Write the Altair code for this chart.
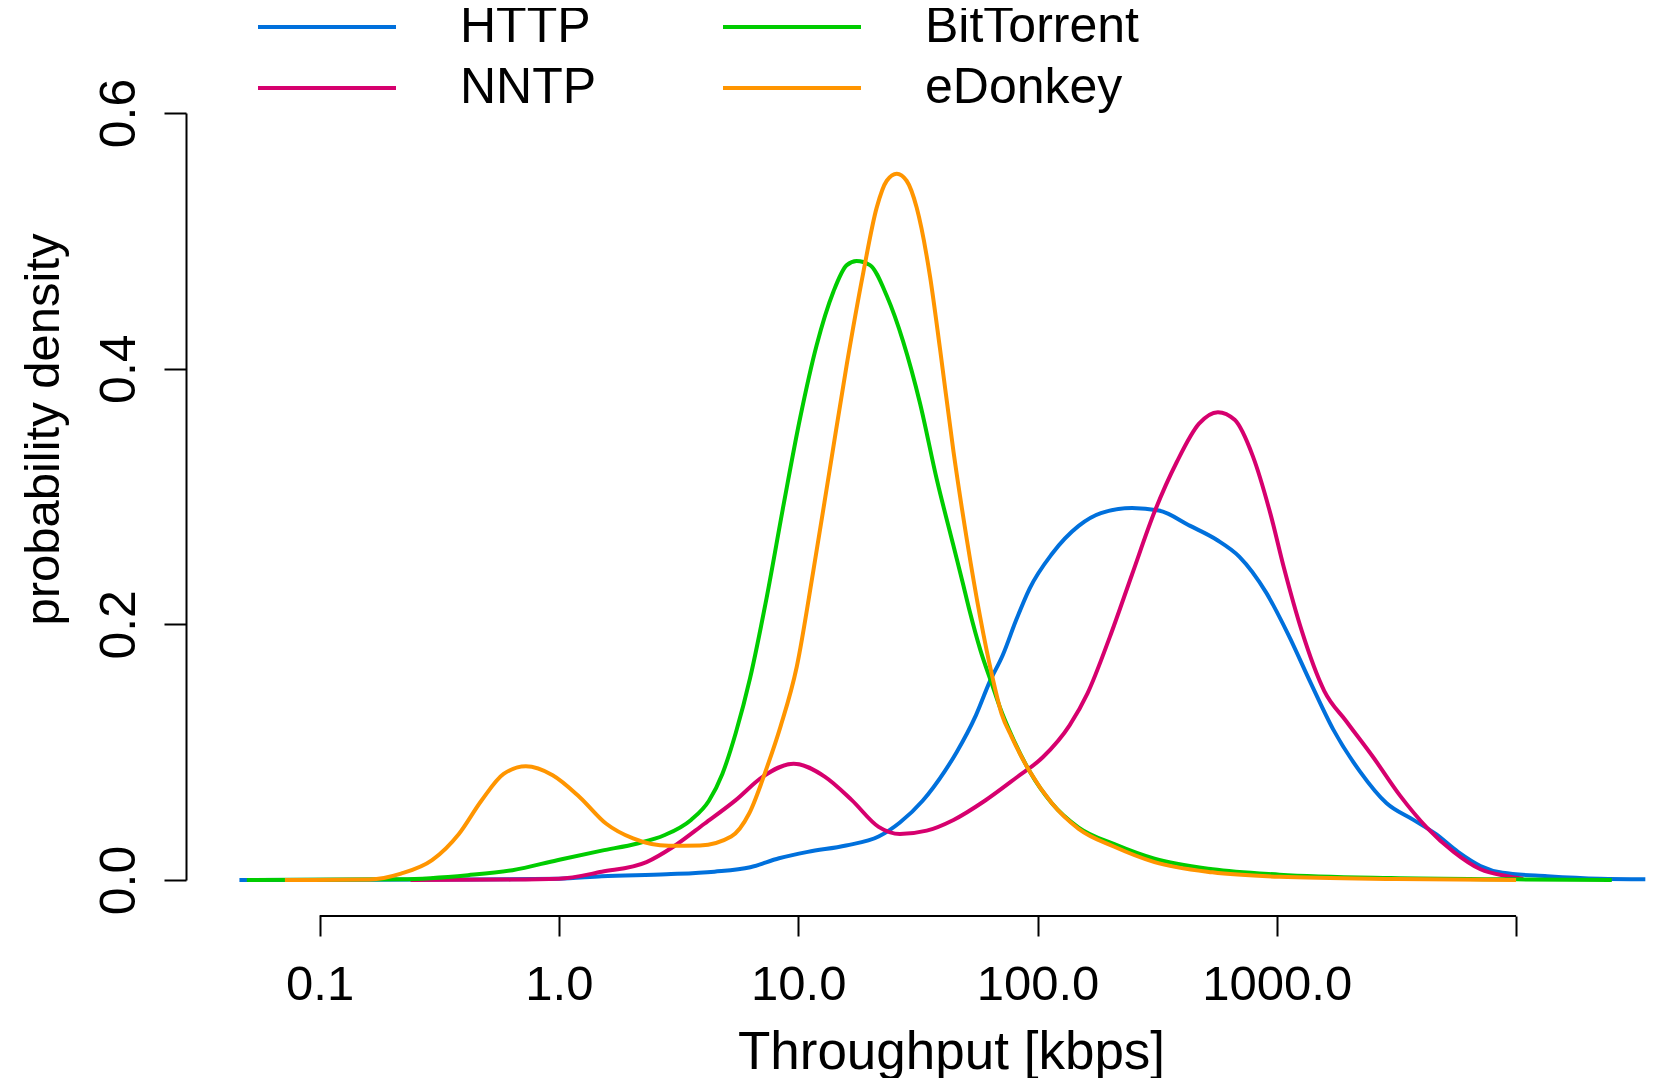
import altair as alt
import pandas as pd

# ---- data (throughput in kbps, probability density) ----
series_names = ["HTTP", "NNTP", "BitTorrent", "eDonkey"]
legend_order = ["HTTP", "NNTP", "BitTorrent", "eDonkey"]
colors = ["#0070DC", "#D6006E", "#00CC00", "#FF9500"]  # in legend_order

http_log = [-1.335, -0.5, 0.0, 0.179, 0.45, 0.65, 0.80, 0.92, 1.04, 1.2, 1.336, 1.425, 1.52,
            1.612, 1.662, 1.743, 1.80, 1.855, 1.91, 1.967, 2.06, 2.172, 2.265, 2.395,
            2.507, 2.638, 2.75, 2.843, 2.955, 3.048, 3.142, 3.235, 3.347, 3.459, 3.571,
            3.664, 3.757, 3.851, 3.944, 4.13, 4.35, 4.54]
http_den = [0.0, 0.0003, 0.001, 0.003, 0.0045, 0.0065, 0.010, 0.017, 0.022, 0.027, 0.034, 0.045, 0.062,
            0.085, 0.10, 0.129, 0.155, 0.176, 0.203, 0.228, 0.255, 0.277, 0.287, 0.291,
            0.289, 0.277, 0.266, 0.253, 0.225, 0.192, 0.154, 0.118, 0.085, 0.060, 0.047,
            0.036, 0.022, 0.011, 0.0056, 0.003, 0.001, 0.0005]

nntp_log = [-0.62, -0.2, 0.0, 0.179, 0.366, 0.478, 0.608, 0.739, 0.851, 0.981, 1.112, 1.224,
            1.336, 1.425, 1.537, 1.649, 1.78, 1.911, 2.022, 2.134, 2.209, 2.302, 2.395, 2.489,
            2.582, 2.675, 2.754, 2.824, 2.899, 2.974, 3.03, 3.104, 3.198, 3.291, 3.403, 3.515,
            3.627, 3.739, 3.851, 3.962, 4.03]
nntp_den = [0.0, 0.0003, 0.001, 0.0064, 0.014, 0.026, 0.044, 0.0625, 0.0807, 0.091, 0.0807, 0.0625,
            0.0416, 0.036, 0.0386, 0.047, 0.062, 0.080, 0.096, 0.121, 0.146, 0.190, 0.239, 0.288,
            0.327, 0.357, 0.366, 0.360, 0.332, 0.286, 0.244, 0.195, 0.148, 0.124, 0.096, 0.066,
            0.041, 0.022, 0.0084, 0.003, 0.001]

bt_log = [-1.304, -0.66, -0.38, -0.194, -0.007, 0.179, 0.328, 0.44, 0.552, 0.627, 0.683, 0.739,
          0.799, 0.868, 0.938, 1.008, 1.077, 1.147, 1.203, 1.244, 1.300, 1.370, 1.439, 1.509,
          1.579, 1.648, 1.687, 1.717, 1.761, 1.81, 1.843, 1.892, 1.967, 2.06, 2.172, 2.321, 2.489,
          2.731, 3.011, 3.477, 4.0, 4.40]
bt_den = [0.0, 0.0006, 0.0038, 0.0077, 0.0155, 0.023, 0.0286, 0.035, 0.047, 0.062, 0.083, 0.115,
          0.158, 0.2207, 0.2926, 0.3614, 0.4183, 0.4602, 0.481, 0.4842, 0.481, 0.457, 0.421, 0.373,
          0.3135, 0.262, 0.233, 0.210, 0.180, 0.153, 0.135, 0.113, 0.085, 0.060, 0.041, 0.028, 0.0166,
          0.0084, 0.0042, 0.0015, 0.0005, 0.0]

ed_log = [-1.145, -0.791, -0.66, -0.53, -0.418, -0.324, -0.231, -0.138, -0.026, 0.086, 0.198,
          0.31, 0.459, 0.59, 0.72, 0.795, 0.87, 0.926, 0.994, 1.063, 1.133, 1.203, 1.272, 1.328,
          1.37, 1.412, 1.453, 1.495, 1.551, 1.593, 1.649, 1.705, 1.76, 1.81, 1.85, 1.892, 1.967,
          2.06, 2.172, 2.321, 2.489, 2.731, 3.011, 3.5, 4.0]
ed_den = [0.0, 0.0004, 0.005, 0.0155, 0.036, 0.062, 0.083, 0.089, 0.082, 0.065, 0.044,
          0.0325, 0.0267, 0.027, 0.034, 0.052, 0.0885, 0.12, 0.1668, 0.2416, 0.3225, 0.4034, 0.4752, 0.526,
          0.547, 0.5525, 0.547, 0.526, 0.472, 0.415, 0.335, 0.266, 0.206, 0.160, 0.130, 0.112, 0.085,
          0.060, 0.040, 0.026, 0.014, 0.006, 0.0025, 0.0008, 0.0]

x_ticks = [0.1, 1, 10, 100, 1000, 10000]
y_ticks = [0.0, 0.2, 0.4, 0.6]

rows = []
for name, lg, dn in [("HTTP", http_log, http_den), ("NNTP", nntp_log, nntp_den),
                     ("BitTorrent", bt_log, bt_den), ("eDonkey", ed_log, ed_den)]:
    for i, (a, b) in enumerate(zip(lg, dn)):
        rows.append({"protocol": name, "kbps": 10 ** a, "density": b, "i": i})
df = pd.DataFrame(rows)

FONT = "Liberation Sans"

x_scale = alt.Scale(type="log", domain=[10 ** -1.5583, 10 ** 4.5428], nice=False)
y_scale = alt.Scale(domain=[0, 0.6], nice=False, zero=True)

x_axis = alt.Axis(values=x_ticks, offset=36, domain=False, ticks=True, tickSize=20,
                  tickWidth=2, tickColor="black", grid=False,
                  labelExpr="datum.value >= 10000 ? '' : format(datum.value, '.1f')",
                  labelFontSize=49, labelFont=FONT, labelColor="black", labelPadding=24,
                  labelFlush=False, labelOverlap=False,
                  title="Throughput [kbps]", titleFontSize=53, titleFont=FONT,
                  titleFontWeight="normal", titleColor="black",
                  titleX=765, titleY=152, titleAlign="center", titleBaseline="alphabetic")

y_axis = alt.Axis(values=y_ticks, format=".1f", domain=True, domainWidth=2, domainColor="black",
                  tickSize=22, tickWidth=2, tickColor="black", grid=False,
                  labelAngle=270, labelAlign="center", labelBaseline="alphabetic",
                  labelPadding=30, labelFontSize=50, labelFont=FONT, labelColor="black",
                  labelFlush=False, labelOverlap=False,
                  title="probability density", titleFontSize=49, titleFont=FONT,
                  titleFontWeight="normal", titleColor="black", titleAngle=270,
                  titleX=-128, titleY=316, titleAlign="center", titleBaseline="alphabetic")

color_enc = alt.Color("protocol:N",
                      scale=alt.Scale(domain=legend_order, range=colors),
                      legend=alt.Legend(orient="none", legendX=70, legendY=-112, columns=2,
                                        symbolType="stroke", symbolSize=19044,
                                        symbolStrokeWidth=4, clipHeight=52,
                                        labelFontSize=50, labelFont=FONT, labelColor="black",
                                        labelLimit=500,
                                        labelOffset=62, rowPadding=9, columnPadding=124,
                                        padding=0, offset=0, title=None))

layers = []
for name in series_names:
    layers.append(
        alt.Chart(df).transform_filter(alt.datum.protocol == name)
        .mark_line(strokeWidth=4, interpolate="monotone")
        .encode(x=alt.X("kbps:Q", scale=x_scale, axis=x_axis),
                y=alt.Y("density:Q", scale=y_scale, axis=y_axis),
                color=color_enc, order="i:Q")
    )

axis_line = pd.DataFrame({"kbps": [x_ticks[0]], "kbps_end": [x_ticks[-1]]})
rule = alt.Chart(axis_line).mark_rule(strokeWidth=2, color="black").encode(
    x=alt.X("kbps:Q", scale=x_scale, axis=x_axis),
    x2="kbps_end:Q",
    y=alt.value(767 + 36))

chart = alt.layer(rule, *layers).properties(
    width=1460, height=767,
    padding={"left": 178, "top": 105, "right": 0, "bottom": 198},
    autosize=alt.AutoSizeParams(type="none"),
    background="white",
).configure_view(stroke=None)

chart.save("out.html", embed_options={"renderer": "svg", "actions": False})
